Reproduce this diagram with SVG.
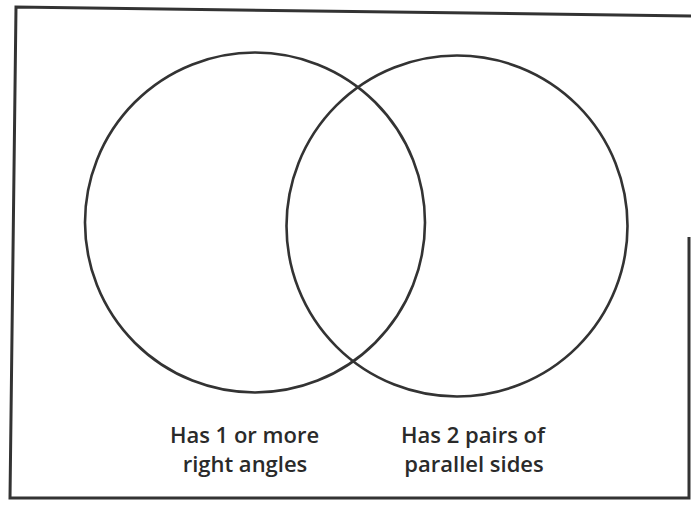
<svg xmlns="http://www.w3.org/2000/svg" width="691" height="506" viewBox="0 0 691 506">
<style>
.frame{fill:none;stroke:#333;stroke-width:3}
.c{fill:none;stroke:#333;stroke-width:2.6}
.t{font-family:"Open Sans","Noto Sans",sans-serif;font-size:22px;font-weight:600;fill:#2a2a2a;text-anchor:middle}
</style>
<rect width="691" height="506" fill="#fff"/>
<polyline class="frame" points="691,16 16,7 10,498 689,498 689,237"/>
<g id="set-a">
<circle class="c" cx="255" cy="222.5" r="170"/>
<text class="t" x="244.5" y="443">Has 1 or more</text>
<text class="t" x="245" y="472">right angles</text>
</g>
<g id="set-b">
<circle class="c" cx="457" cy="226" r="170.5"/>
<text class="t" x="473" y="443">Has 2 pairs of</text>
<text class="t" x="474" y="472">parallel sides</text>
</g>
<g id="connectors"></g>
</svg>
